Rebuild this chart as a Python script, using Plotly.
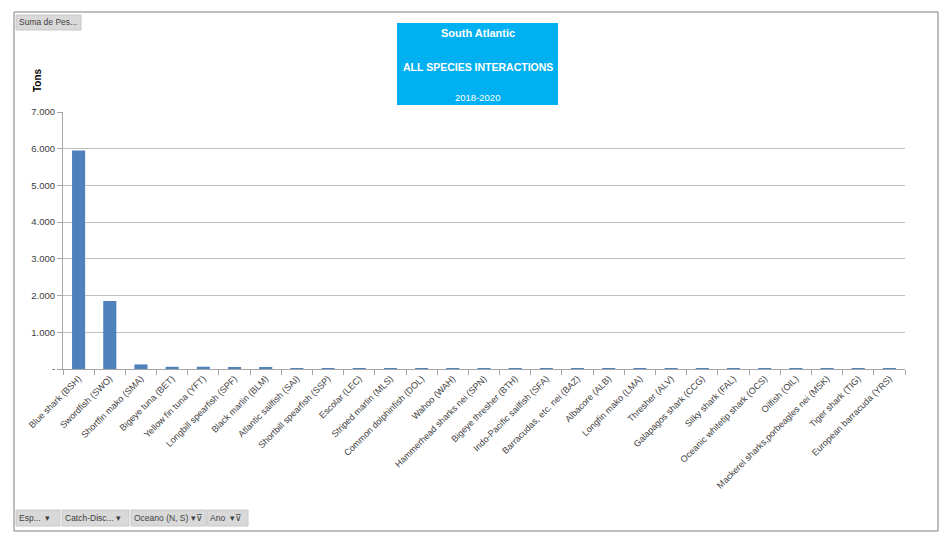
import plotly.graph_objects as go

categories = ["Blue shark (BSH)", "Swordfish (SWO)", "Shortfin mako (SMA)", "Bigeye tuna (BET)",
              "Yellow fin tuna (YFT)", "Longbill spearfish (SPF)", "Black marlin (BLM)",
              "Atlantic sailfish (SAI)", "Shortbill spearfish (SSP)", "Escolar (LEC)",
              "Striped marlin (MLS)", "Common dolphinfish (DOL)", "Wahoo (WAH)",
              "Hammerhead sharks nei (SPN)", "Bigeye thresher (BTH)", "Indo-Pacific sailfish (SFA)",
              "Barracudas, etc. nei (BAZ)", "Albacore (ALB)", "Longfin mako (LMA)", "Thresher (ALV)",
              "Galapagos shark (CCG)", "Silky shark (FAL)", "Oceanic whitetip shark (OCS)",
              "Oilfish (OIL)", "Mackerel sharks,porbeagles nei (MSK)", "Tiger shark (TIG)",
              "European barracuda (YRS)"]
tons = [5950, 1850, 125, 60, 62, 48, 30, 14, 12, 10, 9, 8, 8, 7, 7, 6, 6, 6, 5, 5, 5, 5, 5, 4, 4, 4, 4]

y_tickvals = [0, 1000, 2000, 3000, 4000, 5000, 6000, 7000]
y_ticktext = ["-", "1.000", "2.000", "3.000", "4.000", "5.000", "6.000", "7.000"]

W, H = 940, 534
L, R, T, B = 63, 905, 112, 369

def px(x):
    return (x - L) / (R - L)

def py(y):
    return (B - y) / (B - T)

fig = go.Figure(go.Bar(x=categories, y=tons, marker=dict(color="#4F81BD", line=dict(width=0)),
                       hoverinfo="x+y"))

font = "Liberation Sans, Arial, sans-serif"

shapes = [
    dict(type="rect", xref="paper", yref="paper", x0=px(14), x1=px(938), y0=py(531), y1=py(12),
         line=dict(color="#7f7f7f", width=1), fillcolor="rgba(0,0,0,0)", layer="below"),
    dict(type="rect", xref="paper", yref="paper", x0=px(397), x1=px(558), y0=py(105), y1=py(23),
         line=dict(width=0), fillcolor="#00B0F0"),
]

def ann(text, x, y, size, color, xanchor="center", angle=0):
    return dict(text=text, x=px(x), y=py(y), xref="paper", yref="paper", xanchor=xanchor,
                yanchor="middle", textangle=angle, showarrow=False,
                font=dict(color=color, size=size, family=font))

annotations = [
    ann("<b>South Atlantic</b>", 477.5, 33, 11, "white"),
    ann("<b>ALL SPECIES INTERACTIONS</b>", 477.5, 67, 10.5, "white"),
    ann("2018-2020", 477.5, 97, 9.5, "white"),
    ann("<b>Tons</b>", 37, 80, 10, "black", angle=-90),
]

buttons = [
    ("Suma de Pes...", 16, 81, 15, 30),
    ("Esp...  ▾", 16, 60, 510, 526),
    ("Catch-Disc... ▾", 62, 129, 510, 526),
    ("Oceano (N, S) ▾⊽", 131, 206, 510, 526),
    ("Ano  ▾⊽", 207, 248, 510, 526),
]
for text, x0, x1, y0, y1 in buttons:
    shapes.append(dict(type="rect", xref="paper", yref="paper", x0=px(x0), x1=px(x1),
                       y0=py(y1), y1=py(y0), line=dict(color="#c8c8c8", width=1),
                       fillcolor="#d9d9d9"))
    annotations.append(ann(text, x0 + 1, (y0 + y1) / 2, 8.5, "#404040", xanchor="left"))

fig.update_layout(
    width=W, height=H,
    margin=dict(l=L, r=W - R, t=T, b=H - B),
    paper_bgcolor="white", plot_bgcolor="white",
    bargap=0.58,
    showlegend=False,
    font=dict(family=font, size=9, color="#404040"),
    xaxis=dict(tickangle=-45, tickfont=dict(size=9, color="#404040"),
               showline=True, linecolor="#a6a6a6", ticks="outside", tickcolor="#a6a6a6",
               ticklen=5, tickson="boundaries", showgrid=False),
    yaxis=dict(range=[0, 7000], tickvals=y_tickvals, ticktext=y_ticktext,
               showgrid=True, gridcolor="#bfbfbf", gridwidth=1,
               showline=True, linecolor="#a6a6a6", ticks="outside", tickcolor="#a6a6a6",
               ticklen=5, zeroline=False, tickfont=dict(size=9.5, color="#404040")),
    shapes=shapes, annotations=annotations,
)

fig.write_html("out.html")
